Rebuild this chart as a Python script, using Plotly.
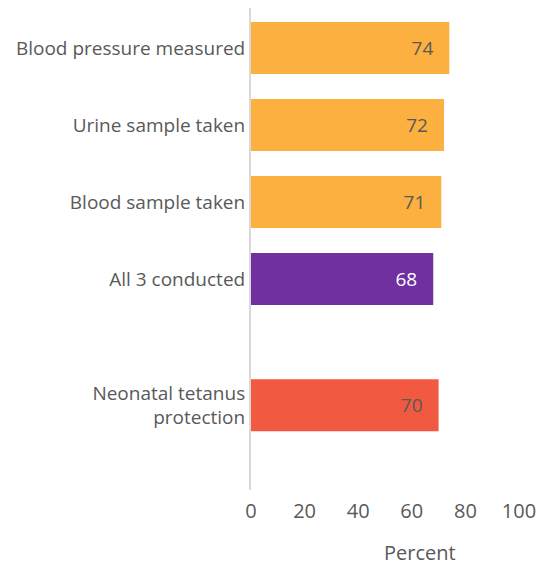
import plotly.graph_objects as go

categories = ["Blood pressure measured", "Urine sample taken", "Blood sample taken",
              "All 3 conducted", "Neonatal tetanus<br>protection"]
values = [74, 72, 71, 68, 70]
colors = ["#FBB040", "#FBB040", "#FBB040", "#7030A0", "#F15A40"]
label_colors = ["#595959", "#595959", "#595959", "#FFFFFF", "#595959"]
x_ticks = [0, 20, 40, 60, 80, 100]
x_title = "Percent"

# slot positions (extra gap before last group)
y_pos = [0, 1, 2, 3, 4.64]

fig = go.Figure(go.Bar(
    x=values, y=y_pos, orientation="h",
    marker=dict(color=colors, line=dict(width=0)),
    width=0.675,
    text=[f"{v}\u00a0\u00a0\u2009" for v in values], textposition="inside", insidetextanchor="end",
    textfont=dict(color=label_colors, size=19),
    hoverinfo="skip",
))

font_family = "Open Sans, Liberation Sans, sans-serif"
fig.update_layout(
    width=545, height=559,
    margin=dict(l=243, r=34, t=0, b=77),
    plot_bgcolor="white", paper_bgcolor="white",
    font=dict(family=font_family, size=19, color="#595959"),
    showlegend=False,
    xaxis=dict(range=[0, 100], tickvals=x_ticks, showgrid=False, zeroline=False,
               showline=False, ticks="outside", ticklen=3, tickcolor="white",
               tickfont=dict(size=20), automargin=False),
    yaxis=dict(range=[5.74, -0.519], tickvals=y_pos, ticktext=categories,
               showgrid=False, zeroline=False, showline=True, linecolor="#D9D9D9",
               linewidth=2, ticks="", tickfont=dict(size=19), automargin=False),
    annotations=[dict(text=x_title, xref="paper", yref="paper", x=0.63, y=0,
                      xanchor="center", yanchor="middle", yshift=-62,
                      showarrow=False, font=dict(size=20, color="#595959"))],
)
fig.write_html("out.html")
